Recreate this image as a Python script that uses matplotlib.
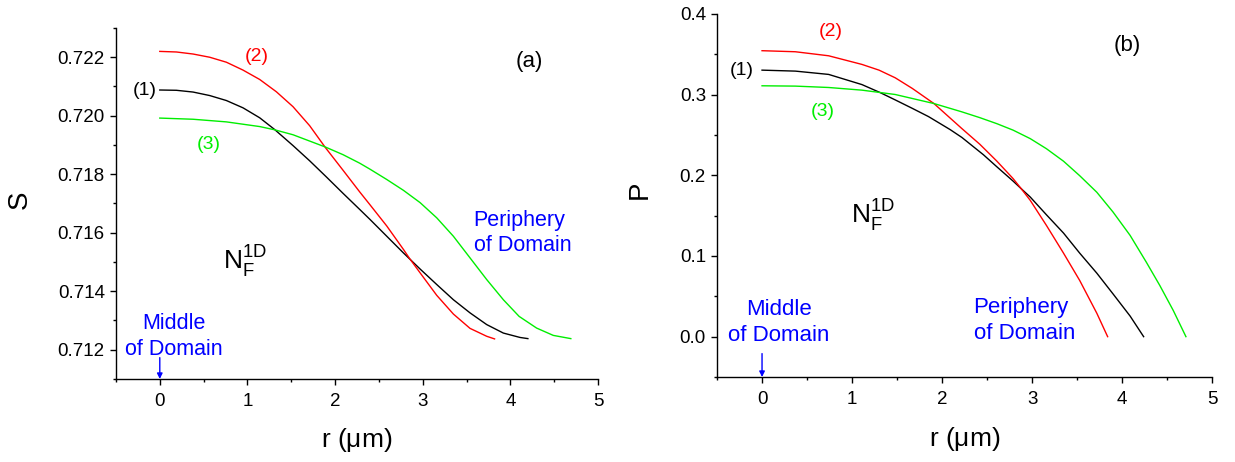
import matplotlib
matplotlib.use("Agg")
import matplotlib.pyplot as plt
from matplotlib.ticker import MultipleLocator, FormatStrFormatter

plt.rcParams['font.family'] = ['Liberation Sans', 'DejaVu Sans']
plt.rcParams['mathtext.fontset'] = 'custom'
plt.rcParams['mathtext.rm'] = 'Liberation Sans'

# ---- panel (a): order parameter S vs r ----
r_s1 = [0, 0.19, 0.38, 0.57, 0.76, 0.95, 1.14, 1.31, 1.52, 1.71, 1.90, 2.09, 2.28, 2.40,
        2.59, 2.78, 2.97, 3.16, 3.35, 3.54, 3.73, 3.92, 4.11, 4.20]
s_1 = [0.72088, 0.72087, 0.72081, 0.72069, 0.72052, 0.72027, 0.71993, 0.71953, 0.71898,
       0.71846, 0.71791, 0.71735, 0.71680, 0.71645, 0.71588, 0.71531, 0.71476, 0.71423,
       0.71371, 0.71326, 0.71286, 0.71257, 0.71242, 0.71238]

r_s2 = [0, 0.19, 0.38, 0.57, 0.76, 0.95, 1.14, 1.33, 1.52, 1.71, 1.89, 2.09, 2.28, 2.40,
        2.59, 2.78, 2.85, 2.97, 3.16, 3.35, 3.54, 3.73, 3.82]
s_2 = [0.72220, 0.72218, 0.72211, 0.72200, 0.72183, 0.72156, 0.72124, 0.72082, 0.72031,
       0.71966, 0.71891, 0.71814, 0.71740, 0.71695, 0.71623, 0.71543, 0.71512, 0.71463,
       0.71386, 0.71322, 0.71273, 0.71246, 0.71237]

r_s3 = [0, 0.38, 0.76, 1.14, 1.31, 1.52, 1.89, 2.09, 2.28, 2.40, 2.59, 2.78, 2.97, 3.16,
        3.35, 3.54, 3.73, 3.92, 4.10, 4.30, 4.49, 4.69]
s_3 = [0.71992, 0.71988, 0.71979, 0.71963, 0.71952, 0.71935, 0.71893, 0.71867, 0.71838,
       0.71817, 0.71782, 0.71745, 0.71703, 0.71651, 0.71588, 0.71514, 0.71440, 0.71371,
       0.71314, 0.71274, 0.71249, 0.71238]

# ---- panel (b): polarization P vs r ----
r_p1 = [0, 0.37, 0.74, 1.11, 1.31, 1.48, 1.67, 1.85, 2.09, 2.22, 2.46, 2.61, 2.79, 2.88,
        2.98, 3.16, 3.35, 3.53, 3.72, 3.90, 4.09, 4.24]
p_1 = [0.3304, 0.3292, 0.3251, 0.3125, 0.3027, 0.2935, 0.2830, 0.2728, 0.2567, 0.2470,
       0.2255, 0.2105, 0.1928, 0.1834, 0.1731, 0.1511, 0.1284, 0.1035, 0.0787, 0.0530,
       0.0255, 0.0]

r_p2 = [0, 0.37, 0.74, 1.11, 1.30, 1.48, 1.67, 1.91, 2.22, 2.42, 2.61, 2.79, 2.88, 2.98,
        3.16, 3.35, 3.53, 3.72, 3.84]
p_2 = [0.3545, 0.3532, 0.3482, 0.3375, 0.3304, 0.3209, 0.3077, 0.2890, 0.2580, 0.2385,
       0.2175, 0.1959, 0.1834, 0.1690, 0.1379, 0.1035, 0.0696, 0.0290, 0.0]

r_p3 = [0, 0.37, 0.74, 1.11, 1.31, 1.48, 1.91, 2.22, 2.42, 2.61, 2.79, 2.98, 3.16, 3.35,
        3.53, 3.72, 3.90, 4.09, 4.27, 4.42, 4.57, 4.71]
p_3 = [0.3110, 0.3106, 0.3089, 0.3056, 0.3027, 0.3002, 0.2890, 0.2787, 0.2715, 0.2640,
       0.2560, 0.2455, 0.2330, 0.2175, 0.1995, 0.1790, 0.1545, 0.1255, 0.0923, 0.0634,
       0.0323, 0.0]

GREEN = '#00ee00'
BLUE = '#0000ff'

fig = plt.figure(figsize=(12.35, 4.62), dpi=100, facecolor='white')
ax1 = fig.add_axes([0.0939, 0.1797, 0.3903, 0.7597])
ax2 = fig.add_axes([0.5806, 0.1840, 0.4008, 0.7857])


def style_axis(ax):
    for side in ('top', 'right'):
        ax.spines[side].set_visible(False)
    for side in ('left', 'bottom'):
        ax.spines[side].set_linewidth(1.0)
    ax.xaxis.set_major_locator(MultipleLocator(1))
    ax.xaxis.set_minor_locator(MultipleLocator(0.5))
    ax.tick_params(which='major', direction='out', length=4, width=1.0, labelsize=13.5)
    ax.tick_params(which='minor', direction='out', length=2.5, width=1.0)
    ax.tick_params(axis='x', pad=6)
    ax.tick_params(axis='y', pad=4)
    ax.set_xlim(-0.5, 5)


# panel (a)
ax1.plot(r_s1, s_1, color='black', lw=1.0)
ax1.plot(r_s2, s_2, color='red', lw=1.0)
ax1.plot(r_s3, s_3, color=GREEN, lw=1.0)
style_axis(ax1)
ax1.set_ylim(0.711, 0.723)
ax1.yaxis.set_major_locator(MultipleLocator(0.002))
ax1.yaxis.set_minor_locator(MultipleLocator(0.001))
ax1.yaxis.set_major_formatter(FormatStrFormatter('%.3f'))

ax1.set_xlabel(r'r ($\mathrm{\mu}$m)', fontsize=19)
ax1.xaxis.set_label_coords(0.5, -0.174)
ax1.xaxis.label.set_va('center')
ax1.set_ylabel('S', fontsize=20)
ax1.yaxis.set_label_coords(-0.199, 0.51)
ax1.yaxis.label.set_va('center')

ax1.text(-0.17, 0.72086, '(1)', fontsize=14, color='black', ha='center', va='center')
ax1.text(1.11, 0.72204, '(2)', fontsize=14, color='red', ha='center', va='center')
ax1.text(0.56, 0.71903, '(3)', fontsize=14, color=GREEN, ha='center', va='center')
ax1.text(4.22, 0.72184, '(a)', fontsize=16, color='black', ha='center', va='center')
ax1.text(0.72, 0.71474, r'$\mathrm{N}_\mathrm{F}^\mathrm{1D}$', fontsize=19, ha='left', va='baseline')
ax1.text(0.16, 0.71244, 'Middle\nof Domain', fontsize=15.5, color=BLUE,
         ha='center', va='center', multialignment='center', linespacing=1.3)
ax1.text(3.58, 0.71599, 'Periphery\nof Domain', fontsize=15.5, color=BLUE,
         ha='left', va='center', multialignment='left', linespacing=1.3)
ax1.annotate('', xy=(0, 0.711), xytext=(0, 0.71173),
             arrowprops=dict(arrowstyle='-|>', color=BLUE, lw=1.0, mutation_scale=8,
                             shrinkA=0, shrinkB=0))

# panel (b)
ax2.plot(r_p1, p_1, color='black', lw=1.0)
ax2.plot(r_p2, p_2, color='red', lw=1.0)
ax2.plot(r_p3, p_3, color=GREEN, lw=1.0)
style_axis(ax2)
ax2.set_ylim(-0.05, 0.4)
ax2.yaxis.set_major_locator(MultipleLocator(0.1))
ax2.yaxis.set_minor_locator(MultipleLocator(0.05))
ax2.yaxis.set_major_formatter(FormatStrFormatter('%.1f'))

ax2.set_xlabel(r'r ($\mathrm{\mu}$m)', fontsize=19)
ax2.xaxis.set_label_coords(0.5, -0.17)
ax2.xaxis.label.set_va('center')
ax2.set_ylabel('P', fontsize=20)
ax2.yaxis.set_label_coords(-0.156, 0.515)
ax2.yaxis.label.set_va('center')

ax2.text(-0.23, 0.3296, '(1)', fontsize=14, color='black', ha='center', va='center')
ax2.text(0.76, 0.378, '(2)', fontsize=14, color='red', ha='center', va='center')
ax2.text(0.67, 0.2795, '(3)', fontsize=14, color=GREEN, ha='center', va='center')
ax2.text(4.06, 0.3615, '(b)', fontsize=16, color='black', ha='center', va='center')
ax2.text(0.99, 0.1408, r'$\mathrm{N}_\mathrm{F}^\mathrm{1D}$', fontsize=19, ha='left', va='baseline')
ax2.text(0.19, 0.0174, 'Middle\nof Domain', fontsize=16, color=BLUE,
         ha='center', va='center', multialignment='center', linespacing=1.3)
ax2.text(2.35, 0.0205, 'Periphery\nof Domain', fontsize=16, color=BLUE,
         ha='left', va='center', multialignment='left', linespacing=1.3)
ax2.annotate('', xy=(0, -0.05), xytext=(0, -0.021),
             arrowprops=dict(arrowstyle='-|>', color=BLUE, lw=1.0, mutation_scale=8,
                             shrinkA=0, shrinkB=0))

fig.savefig('out.png', dpi=100, facecolor='white')
plt.close(fig)
